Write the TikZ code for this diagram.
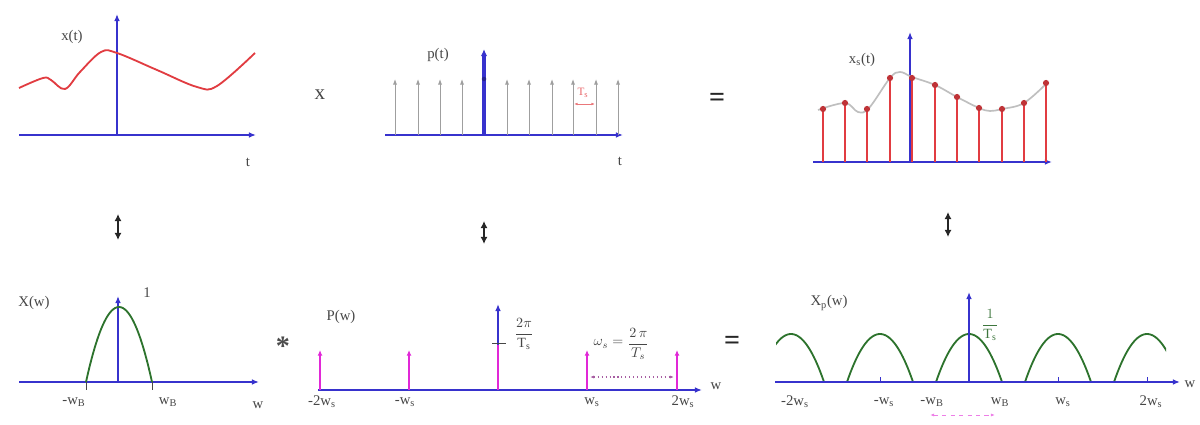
\documentclass[tikz,border=0pt]{standalone}
\usepackage{fontspec}
\setmainfont{Liberation Serif}
\usetikzlibrary{arrows.meta}
\definecolor{axblue}{RGB}{55,50,205}
\definecolor{sigred}{RGB}{225,60,65}
\definecolor{grn}{RGB}{45,115,45}
\definecolor{mag}{RGB}{225,40,215}
\definecolor{txt}{RGB}{70,70,70}
\newcommand{\ws}[2]{#1w\textsubscript{#2}}
\begin{document}
\begin{tikzpicture}[x=0.025cm,y=-0.025cm,
  axis/.style={draw=axblue, line width=1.4pt, -{Latex[length=5pt,width=4pt]}},
  imp/.style={draw=gray!75, line width=0.7pt, -{Latex[length=4pt,width=3pt]}},
  stem/.style={draw=sigred, line width=1.4pt},
  mimp/.style={draw=mag, line width=1.4pt, -{Latex[length=4pt,width=3.5pt]}},
  hump/.style={draw=grn, line width=1.3pt},
  dual/.style={draw=black!85, line width=1.3pt, {Latex[length=5pt,width=5pt]}-{Latex[length=5pt,width=5pt]}},
  lbl/.style={font=\fontsize{10.5}{12}\selectfont, text=txt, inner sep=1pt},
  eqs/.style={font=\bfseries\fontsize{20}{20}\selectfont, text=black!85, inner sep=1pt},
  tick/.style={draw=txt, line width=0.5pt}]
\useasboundingbox (0,0) rectangle (1200,425);

% ---------- x(t)
\coordinate (a1l) at (19,135); \coordinate (a1r) at (256,135);
\coordinate (a1o) at (117,135); \coordinate (a1t) at (117,14);
\draw[axis] (a1l) -- (a1r);
\draw[axis] (a1o) -- (a1t);
\draw[sigred, line width=1.3pt] plot[smooth, tension=0.6] coordinates
  {(19,88) (43,78) (51,80) (65,89) (80,72) (101,52) (117,53) (157,70) (197,87) (217,86) (255,53)};
\node[lbl] (lx) at (72,37) {x(t)};
\node[lbl] (lt1) at (248,162) {t};

% ---------- multiplication sign
\node[lbl, font=\fontsize{15}{15}\selectfont] (times) at (320,95) {x};

% ---------- p(t)
\coordinate (a2l) at (385,135); \coordinate (a2r) at (623,135);
\draw[axis] (a2l) -- (a2r);
\foreach \x in {395,418,440,462,507,529,552,573,596,618}
  \draw[imp] (\x,135) -- (\x,79);
\draw[draw=axblue, line width=2.2pt, -{Latex[length=5pt,width=4.5pt]}] (484,135) -- (484,49);
\fill[axblue!70!black] (484,79) circle[radius=1.6pt];
\node[lbl] (lp) at (438,55) {p(t)};
\node[lbl] (lt2) at (620,161) {t};
\node[text=sigred!80, font=\fontsize{8}{8}\selectfont, inner sep=0pt] (ts) at (583,93) {T\textsubscript{s}};
\draw[sigred!70, line width=0.5pt, {Latex[length=2.5pt]}-{Latex[length=2.5pt]}] (574,104) -- (595,104);

% ---------- equals
\node[eqs] (eq1) at (717,100) {=};

% ---------- x_s(t)
\coordinate (a3l) at (813,162); \coordinate (a3r) at (1052,162);
\coordinate (a3o) at (910,162); \coordinate (a3t) at (910,32);
\draw[axis] (a3l) -- (a3r);
\draw[axis] (a3o) -- (a3t);
\draw[gray!50, line width=1.2pt] plot[smooth, tension=0.6] coordinates
  {(818,110) (845,103) (858,112) (869,108) (890,78) (900,72) (912,77) (935,85) (957,97) (979,108) (990,111) (1002,109) (1024,103) (1048,82)};
\foreach \x/\y in {823/109, 845/103, 867/109, 890/78, 912/78, 935/85, 957/97, 979/108, 1002/109, 1024/103, 1046/83}{
  \draw[stem] (\x,162) -- (\x,\y);
  \fill[sigred!85!black] (\x,\y) circle[radius=2.2pt];}
\node[lbl] (lxs) at (862,60) {x\textsubscript{s}(t)};

% ---------- transform arrows
\coordinate (d1a) at (118,214); \coordinate (d1b) at (118,240);
\coordinate (d2a) at (484,221); \coordinate (d2b) at (484,244);
\coordinate (d3a) at (948,212); \coordinate (d3b) at (948,237);
\draw[dual] (d1a) -- (d1b);
\draw[dual] (d2a) -- (d2b);
\draw[dual] (d3a) -- (d3b);

% ---------- X(w)
\coordinate (b1l) at (19,382); \coordinate (b1r) at (259,382);
\coordinate (b1o) at (118,382); \coordinate (b1t) at (118,296);
\draw[axis] (b1l) -- (b1r);
\draw[axis] (b1o) -- (b1t);
\draw[hump] plot[domain=86:152, samples=40] (\x, {382 - 75*(1-((\x-119)/33)^2)});
\draw[tick] (86,382) -- (86,390);
\draw[tick] (152,382) -- (152,390);
\node[lbl] (lX) at (34,303) {X(w)};
\node[lbl] (l1) at (147,293) {1};
\node[lbl] (lwb1) at (74,402) {\ws{-}{B}};
\node[lbl] (lwb2) at (168,402) {\ws{}{B}};
\node[lbl] (lw1) at (258,405) {w};

% ---------- convolution
\node[lbl, font=\bfseries\fontsize{20}{20}\selectfont, text=black!70] (conv) at (283,346) {*};

% ---------- P(w)
\coordinate (b2l) at (318,390); \coordinate (b2r) at (702,390);
\draw[axis] (b2l) -- (b2r);
\foreach \x in {320,409,587,677}
  \draw[mimp] (\x,390) -- (\x,350);
\draw[mag, line width=1.6pt] (498,390) -- (498,345);
\draw[draw=axblue, line width=1.6pt, -{Latex[length=5pt,width=4pt]}] (498,345) -- (498,304);
\draw[tick] (492,343) -- (506,343);
\node[lbl] (lP) at (341,317) {P(w)};
\node[lbl, font=\fontsize{10}{12}\selectfont] (frac1) at (524,334) {$\displaystyle\frac{2\pi}{\mathrm{T_s}}$};
\node[lbl, font=\fontsize{10}{12}\selectfont, text=txt, anchor=east] (om) at (625,344) {$\omega_s=$};
\node[lbl, font=\fontsize{10}{12}\selectfont, text=txt, anchor=west] (omf) at (626,344) {$\displaystyle\frac{2\,\pi}{T_s}$};
\draw[gray!60!mag, dotted, line width=0.8pt, {Latex[length=3pt]}-{Latex[length=3pt]}] (590,377) -- (674,377);
\node[lbl] (m2ws) at (322,402) {\ws{-2}{s}};
\node[lbl] (mws) at (405,402) {\ws{-}{s}};
\node[lbl] (pws) at (592,402) {\ws{}{s}};
\node[lbl] (p2ws) at (683,402) {\ws{2}{s}};
\node[lbl] (lw2) at (716,386) {w};

% ---------- equals 2
\node[eqs] (eq2) at (732,343) {=};

% ---------- X_p(w)
\coordinate (b3l) at (775,382); \coordinate (b3r) at (1180,382);
\coordinate (b3o) at (969,382); \coordinate (b3t) at (969,292);
\begin{scope}
  \clip (776,280) rectangle (1166,390);
  \foreach \c in {791,880,969,1058,1147}
    \draw[hump] plot[domain=\c-33:\c+33, samples=40] (\x, {382 - 48*(1-((\x-\c)/33)^2)});
\end{scope}
\draw[axis] (b3l) -- (b3r);
\draw[axis] (b3o) -- (b3t);
\foreach \x in {880,1058,1147}
  \draw[tick, draw=axblue] (\x,382) -- (\x,377);
\node[lbl] (lXp) at (829,303) {X\textsubscript{p}(w)};
\node[lbl, font=\fontsize{10}{12}\selectfont, text=grn!80!gray] (frac2) at (990,325) {$\displaystyle\frac{1}{\mathrm{T_s}}$};
\node[lbl] (q2ws) at (795,402) {\ws{-2}{s}};
\node[lbl] (qws) at (884,402) {\ws{-}{s}};
\node[lbl] (qwb) at (932,402) {\ws{-}{B}};
\node[lbl] (rwb) at (1000,402) {\ws{}{B}};
\node[lbl] (rws) at (1063,402) {\ws{}{s}};
\node[lbl] (r2ws) at (1151,402) {\ws{2}{s}};
\node[lbl] (lw3) at (1190,384) {w};
\draw[mag!60, dashed, line width=0.7pt, {Latex[length=3pt]}-{Latex[length=3pt]}] (930,415) -- (995,415);
\end{tikzpicture}
\end{document}
